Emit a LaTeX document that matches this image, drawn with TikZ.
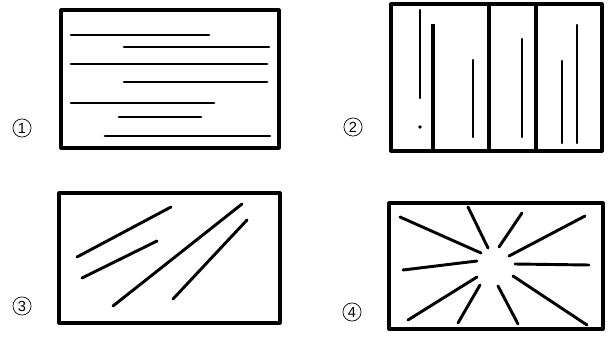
\documentclass[tikz,border=0pt]{standalone}
\usepackage{fontspec}
\setmainfont{Liberation Sans}
\usetikzlibrary{calc}

\begin{document}
\begin{tikzpicture}[
    x=0.03cm, y=-0.03cm,
    frame/.style={draw, line width=2.7pt, line join=round},
    stroke/.style={draw, line width=2.5pt, line cap=round},
    thin stroke/.style={draw, line width=2pt, line cap=round},
    tag/.style={draw, circle, line width=0.6pt, minimum size=15.5pt, inner sep=0pt,
                font=\fontsize{12.5}{12.5}\selectfont}
]
\useasboundingbox (0,0) rectangle (611,337);

% ================================================================
%  Panel 1 — horizontal strokes
% ================================================================
\node[tag] (n1) at (22,128) {1};
\draw[frame] (61,10) rectangle (279,148);
\foreach \ya/\xa/\xb in {35/71/209, 47/124/269, 64/71/267, 82/124/267,
                          103/71/214, 117/119/201, 136/105/270} {
    \draw[stroke] (\xa,\ya) -- (\xb,\ya);
}

% ================================================================
%  Panel 2 — vertical strokes, split box
% ================================================================
\node[tag] (n2) at (353,127) {2};
\draw[frame] (391,4) rectangle (602,151);
\draw[frame] (433,24) -- (433,151);
\draw[frame] (489,4) -- (489,151);
\draw[frame] (536,4) -- (536,151);
\foreach \xa/\ya/\yb in {420/10/98, 473/60/137, 522/39/137,
                          562/61/143, 577/25/143} {
    \draw[thin stroke] (\xa,\ya) -- (\xa,\yb);
}
\fill (420,127) circle (1.5pt);

% ================================================================
%  Panel 3 — slanted strokes
% ================================================================
\node[tag] (n3) at (22,306) {3};
\draw[frame] (59,193) rectangle (280,323);
\draw[stroke] (77,257) -- (171,207);
\draw[stroke] (82,278) -- (157,241);
\draw[stroke] (113,306) -- (242,204);
\draw[stroke] (173,299) -- (247,220);

% ================================================================
%  Panel 4 — radial strokes
% ================================================================
\node[tag] (n4) at (352,312) {4};
\draw[frame] (389,203) rectangle (603,329);
\foreach \xa/\ya/\xb/\yb in {400/217/481/253, 468/207/488/248,
                              522/213/499/247, 585/216/509/256,
                              515/264/589/265, 513/276/587/325,
                              498/286/518/324, 480/285/458/323,
                              477/277/408/320, 477/261/403/270} {
    \draw[stroke] (\xa,\ya) -- (\xb,\yb);
}
\end{tikzpicture}
\end{document}
